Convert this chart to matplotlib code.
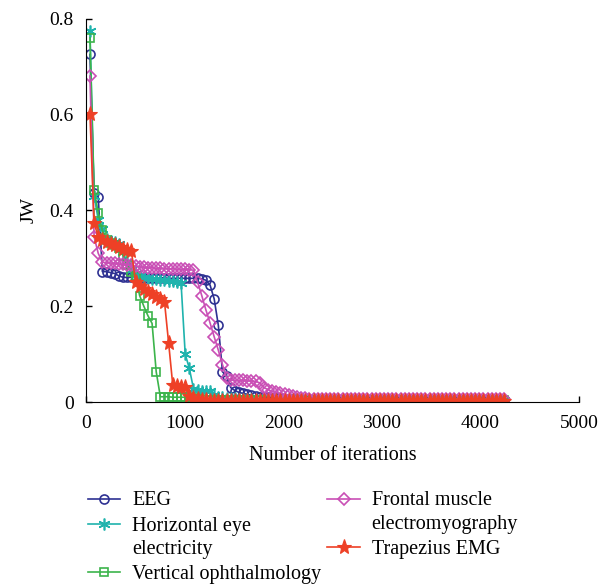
import numpy as np
import matplotlib.pyplot as plt

plt.rcParams['font.family'] = ['Liberation Serif', 'DejaVu Serif']

# iteration at which each JW value was recorded
iterations = np.arange(40, 4241, 42)

eeg = [0.725, 0.435, 0.427, 0.272, 0.272, 0.270, 0.268, 0.263, 0.260, 0.260,
       0.260, 0.260, 0.259, 0.259, 0.259, 0.259, 0.259, 0.259, 0.259, 0.258,
       0.258, 0.258, 0.258, 0.258, 0.258, 0.258, 0.258, 0.257, 0.254, 0.244,
       0.215, 0.160, 0.063, 0.055, 0.030, 0.024, 0.020, 0.018, 0.016, 0.014,
       0.012, 0.011, 0.010, 0.010, 0.009, 0.008, 0.008, 0.007, 0.007, 0.006,
       0.006, 0.005, 0.005, 0.005, 0.005, 0.005, 0.005, 0.005, 0.005, 0.005,
       0.005, 0.005, 0.005, 0.005, 0.005, 0.005, 0.005, 0.005, 0.005, 0.005,
       0.005, 0.005, 0.005, 0.005, 0.005, 0.005, 0.005, 0.005, 0.005, 0.005,
       0.005, 0.005, 0.005, 0.005, 0.005, 0.005, 0.005, 0.005, 0.005, 0.005,
       0.005, 0.005, 0.005, 0.005, 0.005, 0.005, 0.005, 0.005, 0.005, 0.005,
       0.005]

horizontal_eye = [0.775, 0.430, 0.380, 0.360, 0.340, 0.335, 0.333, 0.330, 0.312, 0.292,
                  0.276, 0.266, 0.262, 0.260, 0.258, 0.257, 0.256, 0.255, 0.254, 0.253,
                  0.252, 0.250, 0.248, 0.100, 0.070, 0.028, 0.025, 0.024, 0.023, 0.022,
                  0.015, 0.011, 0.010, 0.009, 0.008, 0.008, 0.007, 0.007, 0.006, 0.006,
                  0.005, 0.005, 0.005, 0.005, 0.005, 0.005, 0.005, 0.005, 0.005, 0.005,
                  0.005, 0.005, 0.005, 0.005, 0.005, 0.005, 0.005, 0.005, 0.005, 0.005,
                  0.005, 0.005, 0.005, 0.005, 0.005, 0.005, 0.005, 0.005, 0.005, 0.005,
                  0.005, 0.005, 0.005, 0.005, 0.005, 0.005, 0.005, 0.005, 0.005, 0.005,
                  0.005, 0.005, 0.005, 0.005, 0.005, 0.005, 0.005, 0.005, 0.005, 0.005,
                  0.005, 0.005, 0.005, 0.005, 0.005, 0.005, 0.005, 0.005, 0.005, 0.005,
                  0.005]

vertical_oph = [0.760, 0.443, 0.394, 0.358, 0.338, 0.332, 0.328, 0.322, 0.305, 0.285,
                0.272, 0.262, 0.222, 0.200, 0.180, 0.164, 0.063, 0.011, 0.011, 0.011,
                0.010, 0.010, 0.010, 0.010, 0.010, 0.008, 0.007, 0.006, 0.005, 0.005,
                0.005, 0.005, 0.005, 0.005, 0.005, 0.005, 0.005, 0.005, 0.005, 0.005,
                0.005, 0.005, 0.005, 0.005, 0.005, 0.005, 0.005, 0.005, 0.005, 0.005,
                0.005, 0.005, 0.005, 0.005, 0.005, 0.005, 0.005, 0.005, 0.005, 0.005,
                0.005, 0.005, 0.005, 0.005, 0.005, 0.005, 0.005, 0.005, 0.005, 0.005,
                0.005, 0.005, 0.005, 0.005, 0.005, 0.005, 0.005, 0.005, 0.005, 0.005,
                0.005, 0.005, 0.005, 0.005, 0.005, 0.005, 0.005, 0.005, 0.005, 0.005,
                0.005, 0.005, 0.005, 0.005, 0.005, 0.005, 0.005, 0.005, 0.005, 0.005,
                0.005]

frontal_emg = [0.680, 0.345, 0.310, 0.292, 0.290, 0.290, 0.289, 0.288, 0.287, 0.286,
               0.285, 0.283, 0.282, 0.281, 0.280, 0.280, 0.279, 0.279, 0.278, 0.278,
               0.278, 0.277, 0.277, 0.277, 0.276, 0.275, 0.250, 0.222, 0.192, 0.165,
               0.136, 0.108, 0.078, 0.050, 0.046, 0.045, 0.045, 0.045, 0.044, 0.044,
               0.043, 0.040, 0.030, 0.026, 0.022, 0.020, 0.018, 0.016, 0.014, 0.012,
               0.010, 0.009, 0.008, 0.007, 0.006, 0.006, 0.006, 0.006, 0.006, 0.006,
               0.006, 0.006, 0.006, 0.006, 0.006, 0.006, 0.006, 0.006, 0.006, 0.006,
               0.006, 0.006, 0.006, 0.006, 0.006, 0.006, 0.006, 0.006, 0.006, 0.006,
               0.006, 0.006, 0.006, 0.006, 0.006, 0.006, 0.006, 0.006, 0.006, 0.006,
               0.006, 0.006, 0.006, 0.006, 0.006, 0.006, 0.006, 0.006, 0.006, 0.006,
               0.006]

trapezius_emg = [0.600, 0.373, 0.345, 0.338, 0.334, 0.330, 0.327, 0.323, 0.320, 0.318,
                 0.316, 0.250, 0.243, 0.236, 0.230, 0.225, 0.220, 0.214, 0.209, 0.123,
                 0.035, 0.033, 0.032, 0.031, 0.012, 0.008, 0.006, 0.005, 0.004, 0.002,
                 0.002, 0.002, 0.002, 0.002, 0.002, 0.002, 0.002, 0.002, 0.002, 0.002,
                 0.002, 0.002, 0.002, 0.002, 0.002, 0.002, 0.002, 0.002, 0.002, 0.002,
                 0.002, 0.002, 0.002, 0.002, 0.002, 0.002, 0.002, 0.002, 0.002, 0.002,
                 0.002, 0.002, 0.002, 0.002, 0.002, 0.002, 0.002, 0.002, 0.002, 0.002,
                 0.002, 0.002, 0.002, 0.002, 0.002, 0.002, 0.002, 0.002, 0.002, 0.002,
                 0.002, 0.002, 0.002, 0.002, 0.002, 0.002, 0.002, 0.002, 0.002, 0.002,
                 0.002, 0.002, 0.002, 0.002, 0.002, 0.002, 0.002, 0.002, 0.002, 0.002,
                 0.002]

labels = ["EEG", "Horizontal eye\nelectricity", "Vertical ophthalmology",
          "Frontal muscle\nelectromyography", "Trapezius EMG"]

fig = plt.figure(figsize=(6.07, 5.88), dpi=100)
ax = fig.add_axes([0.1417, 0.3163, 0.8122, 0.6522])

ax.plot(iterations, eeg, color='#2e3192', marker='o', mfc='none', ms=6.5, mew=1.2,
        lw=1.2, label=labels[0])
ax.plot(iterations, horizontal_eye, color='#1fb3ad', marker=(6, 2, 0), ms=8.5, mew=1.2,
        lw=1.2, label=labels[1])
ax.plot(iterations, vertical_oph, color='#3cb44b', marker='s', mfc='none', ms=6, mew=1.2,
        lw=1.2, label=labels[2])
ax.plot(iterations, frontal_emg, color='#c94fb5', marker='D', mfc='none', ms=6, mew=1.2,
        lw=1.2, label=labels[3])
ax.plot(iterations, trapezius_emg, color='#ee4026', marker='*', ms=11, mew=0.8,
        lw=1.2, label=labels[4])

ax.set_xlim(0, 5000)
ax.set_ylim(0, 0.8)
ax.set_xticks([0, 1000, 2000, 3000, 4000, 5000])
ax.set_yticks([0, 0.2, 0.4, 0.6, 0.8])
ax.set_yticklabels(["0", "0.2", "0.4", "0.6", "0.8"])
ax.spines['top'].set_visible(False)
ax.spines['right'].set_visible(False)
ax.tick_params(direction='in', length=4, width=1, labelsize=14)
ax.tick_params(axis='x', pad=9.5)
ax.tick_params(axis='y', pad=9)
ax.set_xlabel("Number of iterations", fontsize=14.5, labelpad=10)
ax.set_ylabel("JW", fontsize=14, labelpad=8)

leg = ax.legend(loc='upper left', bbox_to_anchor=(0.115, 0.195), bbox_transform=fig.transFigure,
                ncol=2, frameon=False, fontsize=14.5, handlelength=1.6, handletextpad=0.6,
                columnspacing=0.3, labelspacing=0.3)
for txt in leg.get_texts():
    txt.set_linespacing(1.3)
# columns start at the same height, handles sit level with the first label line
leg._legend_handle_box.align = 'top'
for col in leg._legend_handle_box.get_children():
    for item in col.get_children():
        item.align = 'top'

fig.savefig("out.png", dpi=100)
